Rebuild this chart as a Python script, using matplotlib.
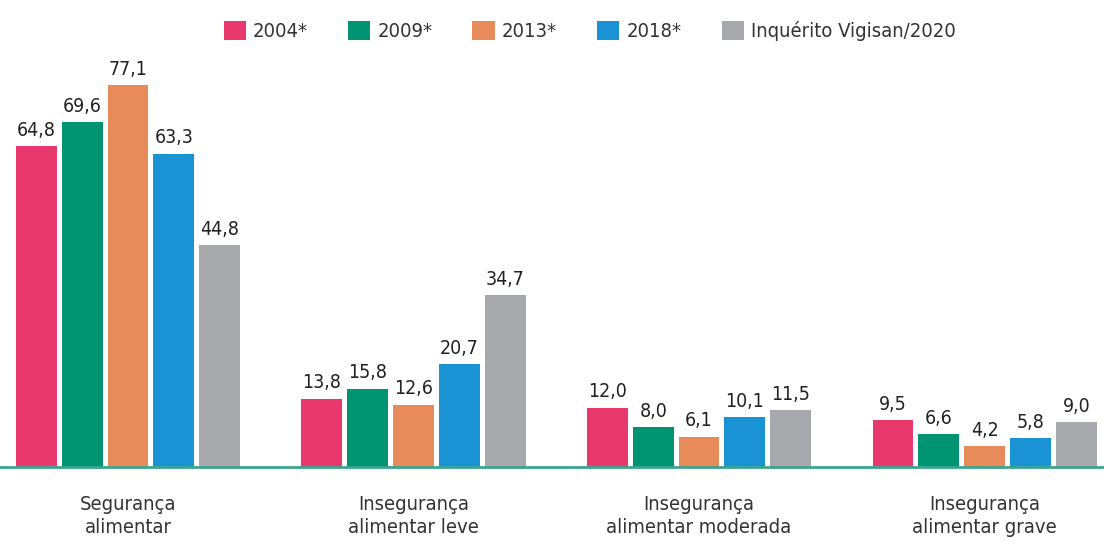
import numpy as np
import matplotlib.pyplot as plt
from matplotlib.patches import Patch
from matplotlib import font_manager as fm

categories = ["Segurança\nalimentar", "Insegurança\nalimentar leve",
              "Insegurança\nalimentar moderada", "Insegurança\nalimentar grave"]
series = ["2004*", "2009*", "2013*", "2018*", "Inquérito Vigisan/2020"]
v2004 = [64.8, 13.8, 12.0, 9.5]
v2009 = [69.6, 15.8, 8.0, 6.6]
v2013 = [77.1, 12.6, 6.1, 4.2]
v2018 = [63.3, 20.7, 10.1, 5.8]
v2020 = [44.8, 34.7, 11.5, 9.0]
values = [v2004, v2009, v2013, v2018, v2020]
colors = ["#E8386D", "#009473", "#E88B5A", "#1A93D4", "#A7A9AC"]

# narrow face, closer to the condensed type of the original
cond = [f for f in fm.fontManager.ttflist
        if ("Condensed" in f.fname or "Narrow" in f.fname) and "Bold" not in f.fname
        and "Oblique" not in f.fname and "Italic" not in f.fname]
cond.sort(key=lambda f: (0 if "DejaVuSansCondensed" in f.fname else 1, f.fname))
if cond:
    fp = fm.FontProperties(fname=cond[0].fname)
else:
    fp = fm.FontProperties(family="DejaVu Sans")

fig = plt.figure(figsize=(11.04, 5.45), dpi=100)
ax = fig.add_axes([0, 78/545, 1, 467/545])

x = np.arange(len(categories))
step = 0.1605
w = 0.143
for i, (vals, c) in enumerate(zip(values, colors)):
    xs = x + (i - 2) * step
    ax.bar(xs, vals, width=w, color=c)
    for xi, v in zip(xs, vals):
        ax.text(xi, v + 1.3, f"{v:.1f}".replace(".", ","), ha="center", va="bottom",
                fontproperties=fp, fontsize=14, color="#222222")

ax.set_xlim(-0.448, 3.418)
ax.set_ylim(0, 94.3)
for s in ["top", "right", "left"]:
    ax.spines[s].set_visible(False)
ax.spines["bottom"].set_color("#3BA58F")
ax.spines["bottom"].set_linewidth(2)
ax.set_yticks([])
ax.set_xticks(x)
ax.set_xticklabels(categories, fontproperties=fp, fontsize=14.5, color="#333333",
                   linespacing=1.25)
ax.tick_params(axis="x", length=0, pad=20)

handles = [Patch(facecolor=c, label=s) for c, s in zip(colors, series)]
lp = fp.copy()
lp.set_size(14.5)
fig.legend(handles=handles, loc="upper center", bbox_to_anchor=(0.534, 0.995), ncol=5,
           frameon=False, prop=lp, handlelength=1.1, handleheight=1.1,
           columnspacing=2.0, handletextpad=0.35, labelcolor="#333333")

fig.savefig("out.png", dpi=100)
